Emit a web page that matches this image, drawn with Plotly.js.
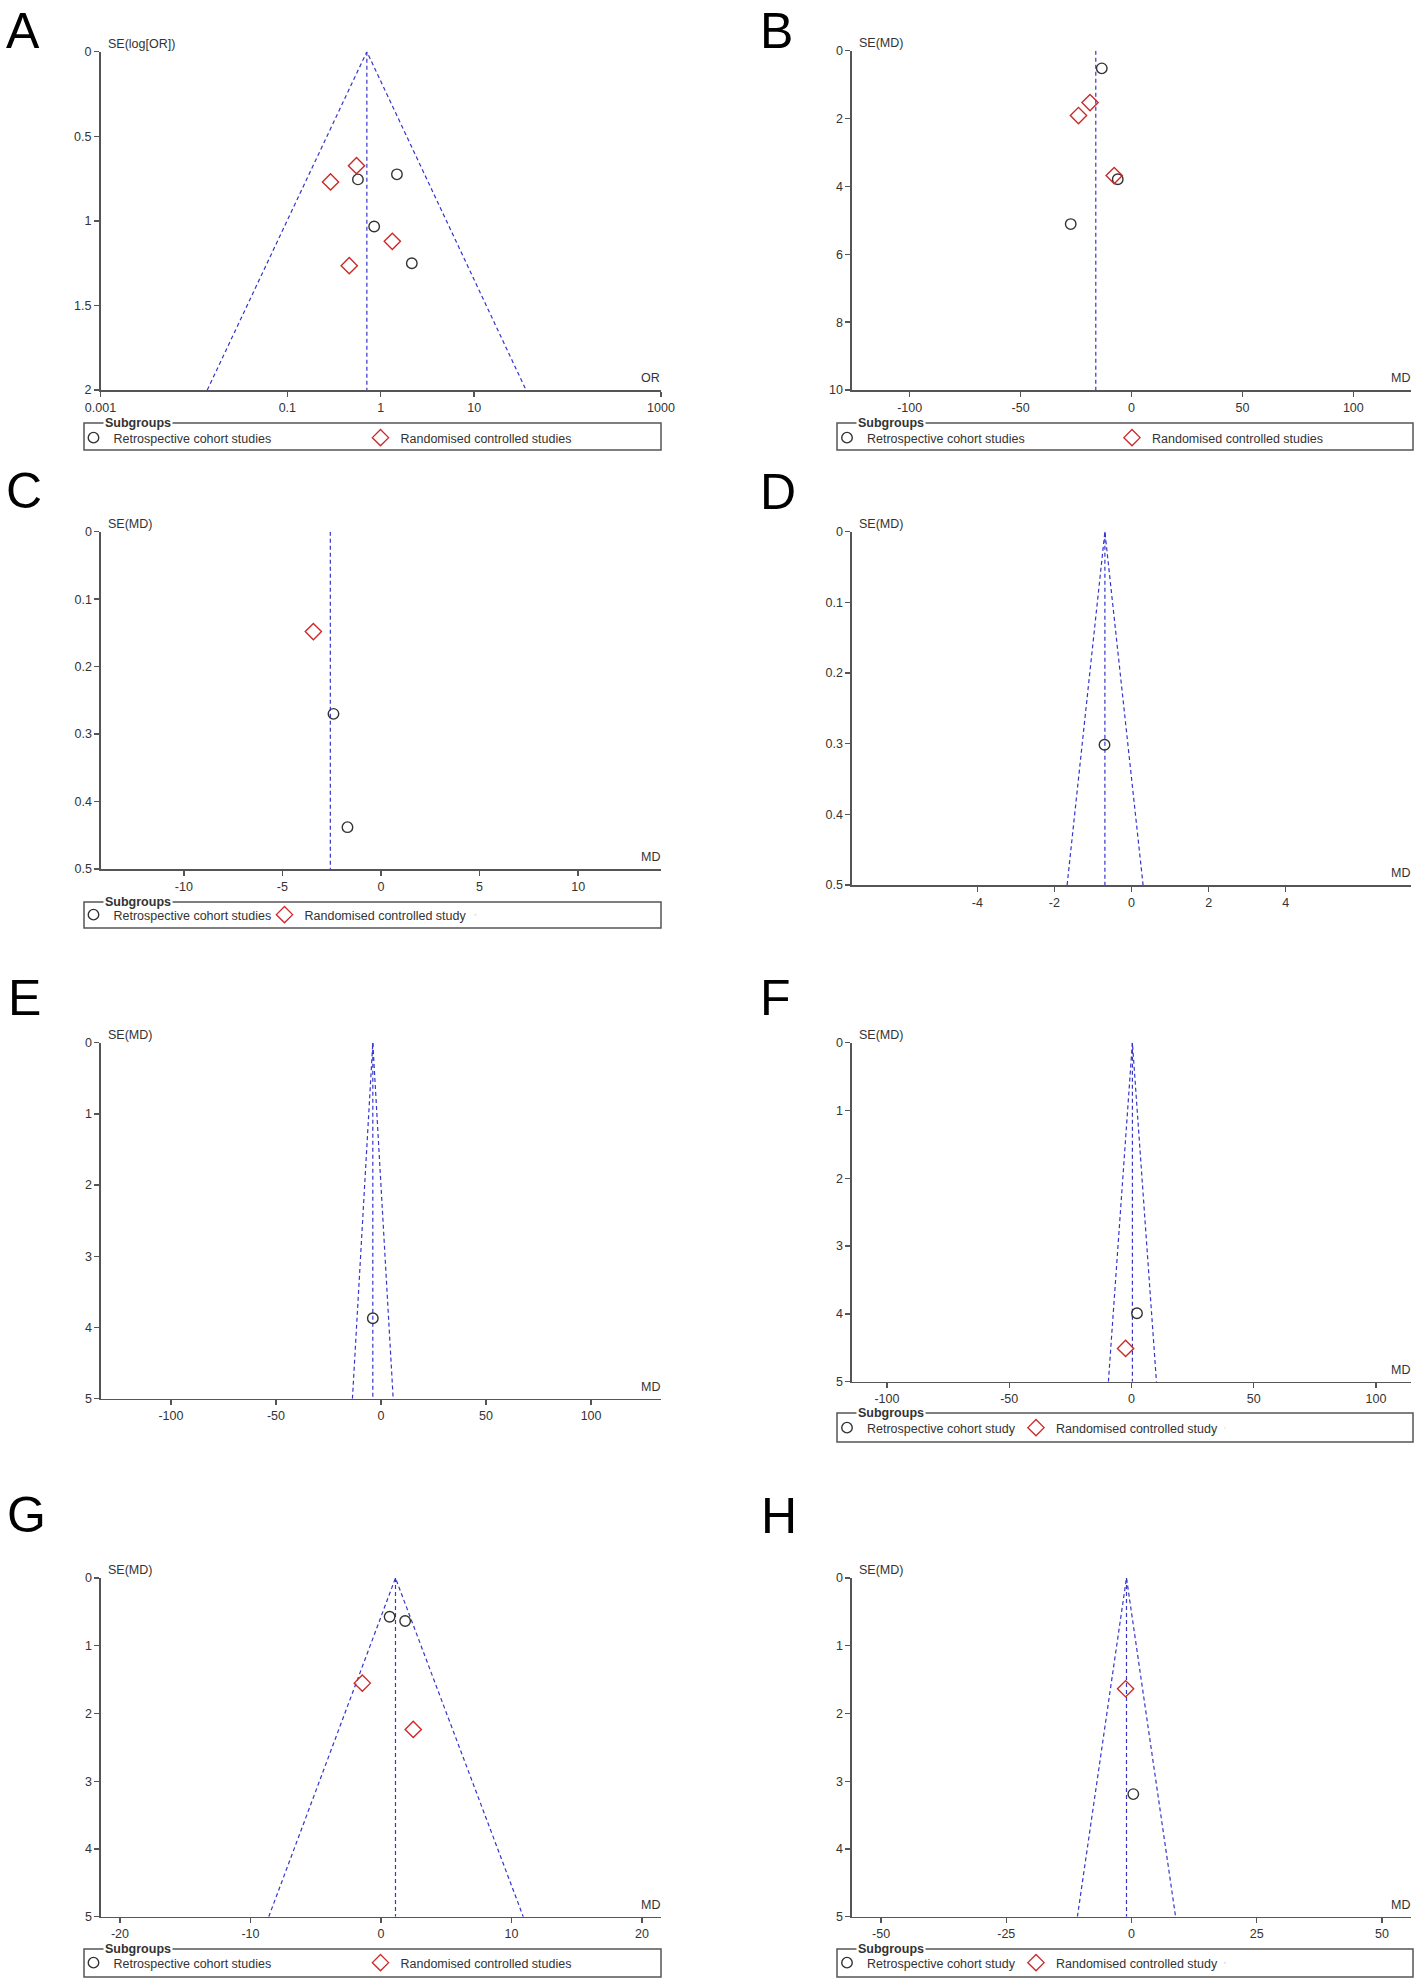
<!DOCTYPE html>
<html>
<head>
<meta charset="utf-8">
<script src="https://cdn.plot.ly/plotly-3.0.1.min.js"></script>
<style>
html,body{margin:0;padding:0;background:#fff;}
#chart{width:1418px;height:1983px;}
</style>
</head>
<body>
<div id="chart"></div>
<script>
// ---------------- DATA ----------------
// Panel A : OR scale (log), SE(log[OR])
const A_rcs_x = [0.57, 1.49, 0.85, 2.15];
const A_rcs_se = [0.755, 0.725, 1.033, 1.251];
const A_rct_x = [0.55, 0.29, 1.33, 0.46];
const A_rct_se = [0.674, 0.770, 1.121, 1.265];
const A_pooled = 0.71;
const A_funnel = [0.0139, 35.9];
const A_seMax = 2;
const A_ticks = [0.001, 0.1, 1, 10, 1000];
const A_tickText = ["0.001", "0.1", "1", "10", "1000"];

// Panel B : MD
const B_rcs_x = [-13.4, -6.2, -27.4];
const B_rcs_se = [0.52, 3.79, 5.11];
const B_rct_x = [-18.7, -23.9, -7.8];
const B_rct_se = [1.53, 1.91, 3.68];
const B_pooled = -16.1;
const B_seMax = 10;
const B_ticks = [-100, -50, 0, 50, 100];

// Panel C : MD
const C_rcs_x = [-2.41, -1.70];
const C_rcs_se = [0.270, 0.438];
const C_rct_x = [-3.43];
const C_rct_se = [0.148];
const C_pooled = -2.57;
const C_seMax = 0.5;
const C_ticks = [-10, -5, 0, 5, 10];

// Panel D : MD
const D_rcs_x = [-0.70];
const D_rcs_se = [0.3015];
const D_pooled = -0.69;
const D_funnel = [-1.67, 0.30];
const D_seMax = 0.5;
const D_ticks = [-4, -2, 0, 2, 4];

// Panel E : MD
const E_rcs_x = [-3.9];
const E_rcs_se = [3.87];
const E_pooled = -3.9;
const E_funnel = [-13.6, 5.8];
const E_seMax = 5;
const E_ticks = [-100, -50, 0, 50, 100];

// Panel F : MD
const F_rcs_x = [2.24];
const F_rcs_se = [3.99];
const F_rct_x = [-2.42];
const F_rct_se = [4.51];
const F_pooled = 0.37;
const F_funnel = [-9.45, 10.2];
const F_seMax = 5;
const F_ticks = [-100, -50, 0, 50, 100];

// Panel G : MD
const G_rcs_x = [0.66, 1.85];
const G_rcs_se = [0.571, 0.635];
const G_rct_x = [-1.43, 2.47];
const G_rct_se = [1.552, 2.236];
const G_pooled = 1.11;
const G_funnel = [-8.6, 10.9];
const G_seMax = 5;
const G_ticks = [-20, -10, 0, 10, 20];

// Panel H : MD
const H_rcs_x = [0.36];
const H_rcs_se = [3.19];
const H_rct_x = [-1.18];
const H_rct_se = [1.635];
const H_pooled = -1.0;
const H_funnel = [-10.8, 8.8];
const H_seMax = 5;
const H_ticks = [-50, -25, 0, 25, 50];

const labelsStudies = ["Retrospective cohort studies", "Randomised controlled studies"];
const labelsC = ["Retrospective cohort studies", "Randomised controlled study"];
const labelsStudy = ["Retrospective cohort study", "Randomised controlled study"];

// ---------------- LAYOUT HELPERS ----------------
const W = 1418, H = 1983;
const px = v => v / W;
const py = v => 1 - v / H;
const SANS = '"Liberation Sans", Arial, "DejaVu Sans", sans-serif';
const FS = 12.5;
const AXC = '#555';
const TXT = '#333';
const BLUE = '#3535cc';
const RED = '#cc2a2a';
const DARK = '#333';

const traces = [];
const layout = {
  width: W, height: H,
  margin: {l: 0, r: 0, t: 0, b: 0, autoexpand: false},
  paper_bgcolor: '#fff', plot_bgcolor: 'rgba(0,0,0,0)',
  showlegend: true,
  annotations: [], shapes: []
};

function addPanel(p) {
  const n = p.n;
  const xa = n === 1 ? 'x' : 'x' + n;
  const ya = n === 1 ? 'y' : 'y' + n;
  const xk = n === 1 ? 'xaxis' : 'xaxis' + n;
  const yk = n === 1 ? 'yaxis' : 'yaxis' + n;
  const common = {
    showline: true, linecolor: AXC, linewidth: 1.6,
    ticks: 'outside', ticklen: 5, tickwidth: 1.4, tickcolor: AXC,
    tickfont: {family: SANS, size: FS, color: TXT},
    showgrid: false, zeroline: false, fixedrange: true
  };
  const xticktext = p.xtickText || p.xticks.map(String);
  layout[xk] = Object.assign({}, common, {
    domain: [px(p.box[0]), px(p.box[1])],
    anchor: ya, type: p.log ? 'log' : 'linear',
    range: p.xrange, tickmode: 'array', tickvals: p.xticks, ticktext: xticktext
  });
  layout[yk] = Object.assign({}, common, {
    domain: [py(p.box[3]), py(p.box[2])],
    anchor: xa, range: [p.seMax, 0], dtick: p.ydtick, tick0: 0
  });
  // overlay axes giving the inner half of the crossing tick marks
  const m = n + 8;
  layout['xaxis' + m] = {
    overlaying: xa, anchor: ya, side: 'bottom', type: p.log ? 'log' : 'linear',
    range: p.xrange, tickmode: 'array', tickvals: p.xticks, ticktext: xticktext,
    ticks: 'inside', ticklen: 5, tickwidth: 1.4, tickcolor: AXC,
    showticklabels: false, showline: false, showgrid: false, zeroline: false, fixedrange: true
  };
  layout['yaxis' + m] = {
    overlaying: ya, anchor: xa, side: 'left',
    range: [p.seMax, 0], dtick: p.ydtick, tick0: 0,
    ticks: 'inside', ticklen: 5, tickwidth: 1.4, tickcolor: AXC,
    showticklabels: false, showline: false, showgrid: false, zeroline: false, fixedrange: true
  };
  // funnel / pooled lines
  const lineStyle = {color: BLUE, width: 1.2, dash: '4px,3px'};
  if (p.funnel) {
    traces.push({x: [p.funnel[0], p.pooled, p.funnel[1]], y: [p.seMax, 0, p.seMax],
      xaxis: xa, yaxis: ya, mode: 'lines', line: lineStyle, showlegend: false, hoverinfo: 'skip'});
  }
  traces.push({x: [p.pooled, p.pooled], y: [0, p.seMax],
    xaxis: xa, yaxis: ya, mode: 'lines', line: lineStyle, showlegend: false, hoverinfo: 'skip'});
  const lg = p.legend ? p.legend.id : undefined;
  traces.push({x: p.rcsX, y: p.rcsSE, xaxis: xa, yaxis: ya, mode: 'markers',
    name: p.labels[0], legend: lg, showlegend: !!p.legend,
    marker: {symbol: 'circle-open', size: 10.5, color: DARK, line: {width: 1.4, color: DARK}}});
  if (p.rctX) {
    traces.push({x: p.rctX, y: p.rctSE, xaxis: xa, yaxis: ya, mode: 'markers',
      name: p.labels[1], legend: lg, showlegend: !!p.legend,
      marker: {symbol: 'diamond-open', size: 12.5, color: RED, line: {width: 1.4, color: RED}}});
  }
  if (p.legend && p.legend.pad) {
    // invisible spacer entry so the last legend label is not clipped
    traces.push({x: [null], y: [null], xaxis: xa, yaxis: ya, mode: 'markers',
      name: '\u00a0', legend: lg, showlegend: true, hoverinfo: 'skip',
      marker: {size: 1, opacity: 0}});
  }
  // panel letter
  layout.annotations.push({text: p.letter, xref: 'paper', yref: 'paper',
    x: px(p.letterPos[0]), y: py(p.letterPos[1]), xanchor: 'left', yanchor: 'top',
    showarrow: false, font: {family: SANS, size: 50, color: '#000'}});
  // y axis label
  layout.annotations.push({text: p.ylab, xref: 'paper', yref: 'paper',
    x: px(p.box[0] + 5), y: py(p.box[2] - 8), xanchor: 'left', yanchor: 'middle',
    showarrow: false, font: {family: SANS, size: FS, color: TXT}});
  // x axis label
  layout.annotations.push({text: p.xlab, xref: 'paper', yref: 'paper',
    x: px(p.box[1] + 1), y: py(p.box[3] - 3), xanchor: 'right', yanchor: 'bottom',
    showarrow: false, font: {family: SANS, size: FS, color: TXT}});
  if (p.legend) {
    const L = p.legend;
    layout.shapes.push({type: 'rect', xref: 'paper', yref: 'paper',
      x0: px(L.box[0]), x1: px(L.box[1]), y0: py(L.box[3]), y1: py(L.box[2]),
      line: {color: AXC, width: 1.5}, fillcolor: 'rgba(0,0,0,0)'});
    layout.annotations.push({text: '<b>Subgroups</b>', xref: 'paper', yref: 'paper',
      x: px(L.box[0] + 19), y: py(L.box[2]), xanchor: 'left', yanchor: 'middle',
      showarrow: false, bgcolor: '#fff', borderpad: 1,
      font: {family: SANS, size: FS, color: TXT}});
    layout[L.id] = {
      x: px(L.symX - 21), y: py(L.symY), xanchor: 'left', yanchor: 'middle',
      orientation: 'h', entrywidth: L.entry - 45, entrywidthmode: 'pixels',
      bgcolor: 'rgba(0,0,0,0)', borderwidth: 0, itemclick: false, itemdoubleclick: false,
      font: {family: SANS, size: FS, color: TXT}, tracegroupgap: 0
    };
  }
}

addPanel({n: 1, letter: 'A', letterPos: [4, 0.5], box: [100.5, 661, 51.7, 390], log: true,
  xrange: [-3, 3], xticks: A_ticks, xtickText: A_tickText, seMax: A_seMax, ydtick: 0.5,
  pooled: A_pooled, funnel: A_funnel, rcsX: A_rcs_x, rcsSE: A_rcs_se, rctX: A_rct_x, rctSE: A_rct_se,
  ylab: 'SE(log[OR])', xlab: 'OR', labels: labelsStudies,
  legend: {id: 'legend', box: [84, 661, 423, 450], symX: 94.5, symY: 438, entry: 287}});

addPanel({n: 2, letter: 'B', letterPos: [758, 0.5], box: [852, 1411, 50.7, 390],
  xrange: [-126, 126], xticks: B_ticks, seMax: B_seMax, ydtick: 2,
  pooled: B_pooled, rcsX: B_rcs_x, rcsSE: B_rcs_se, rctX: B_rct_x, rctSE: B_rct_se,
  ylab: 'SE(MD)', xlab: 'MD', labels: labelsStudies,
  legend: {id: 'legend2', box: [837, 1413, 423, 450], symX: 848, symY: 438, entry: 285}});

addPanel({n: 3, letter: 'C', letterPos: [4, 461], box: [101, 661, 531.7, 869],
  xrange: [-14.2, 14.2], xticks: C_ticks, seMax: C_seMax, ydtick: 0.1,
  pooled: C_pooled, rcsX: C_rcs_x, rcsSE: C_rcs_se, rctX: C_rct_x, rctSE: C_rct_se,
  ylab: 'SE(MD)', xlab: 'MD', labels: labelsC,
  legend: {id: 'legend3', box: [84, 661, 902, 928], symX: 94.5, symY: 915, entry: 191, pad: true}});

addPanel({n: 4, letter: 'D', letterPos: [758, 462], box: [852, 1411, 531.7, 885],
  xrange: [-7.25, 7.25], xticks: D_ticks, seMax: D_seMax, ydtick: 0.1,
  pooled: D_pooled, funnel: D_funnel, rcsX: D_rcs_x, rcsSE: D_rcs_se,
  ylab: 'SE(MD)', xlab: 'MD', labels: labelsStudies});

addPanel({n: 5, letter: 'E', letterPos: [6, 968], box: [101, 661, 1042.7, 1398.7],
  xrange: [-133.3, 133.3], xticks: E_ticks, seMax: E_seMax, ydtick: 1,
  pooled: E_pooled, funnel: E_funnel, rcsX: E_rcs_x, rcsSE: E_rcs_se,
  ylab: 'SE(MD)', xlab: 'MD', labels: labelsStudies});

addPanel({n: 6, letter: 'F', letterPos: [758, 968], box: [852, 1411, 1042.7, 1381.7],
  xrange: [-114.3, 114.3], xticks: F_ticks, seMax: F_seMax, ydtick: 1,
  pooled: F_pooled, funnel: F_funnel, rcsX: F_rcs_x, rcsSE: F_rcs_se, rctX: F_rct_x, rctSE: F_rct_se,
  ylab: 'SE(MD)', xlab: 'MD', labels: labelsStudy,
  legend: {id: 'legend4', box: [837, 1413, 1413, 1442], symX: 848, symY: 1428, entry: 189, pad: true}});

addPanel({n: 7, letter: 'G', letterPos: [5, 1485], box: [101, 661, 1578, 1916.7],
  xrange: [-21.45, 21.45], xticks: G_ticks, seMax: G_seMax, ydtick: 1,
  pooled: G_pooled, funnel: G_funnel, rcsX: G_rcs_x, rcsSE: G_rcs_se, rctX: G_rct_x, rctSE: G_rct_se,
  ylab: 'SE(MD)', xlab: 'MD', labels: labelsStudies,
  legend: {id: 'legend5', box: [84, 661, 1949, 1977], symX: 94.5, symY: 1963, entry: 287}});

addPanel({n: 8, letter: 'H', letterPos: [759, 1486], box: [852, 1411, 1578, 1916.7],
  xrange: [-55.8, 55.8], xticks: H_ticks, seMax: H_seMax, ydtick: 1,
  pooled: H_pooled, funnel: H_funnel, rcsX: H_rcs_x, rcsSE: H_rcs_se, rctX: H_rct_x, rctSE: H_rct_se,
  ylab: 'SE(MD)', xlab: 'MD', labels: labelsStudy,
  legend: {id: 'legend6', box: [837, 1413, 1949, 1977], symX: 848, symY: 1963, entry: 189, pad: true}});

Plotly.newPlot('chart', traces, layout, {displayModeBar: false, staticPlot: true});
</script>
</body>
</html>
